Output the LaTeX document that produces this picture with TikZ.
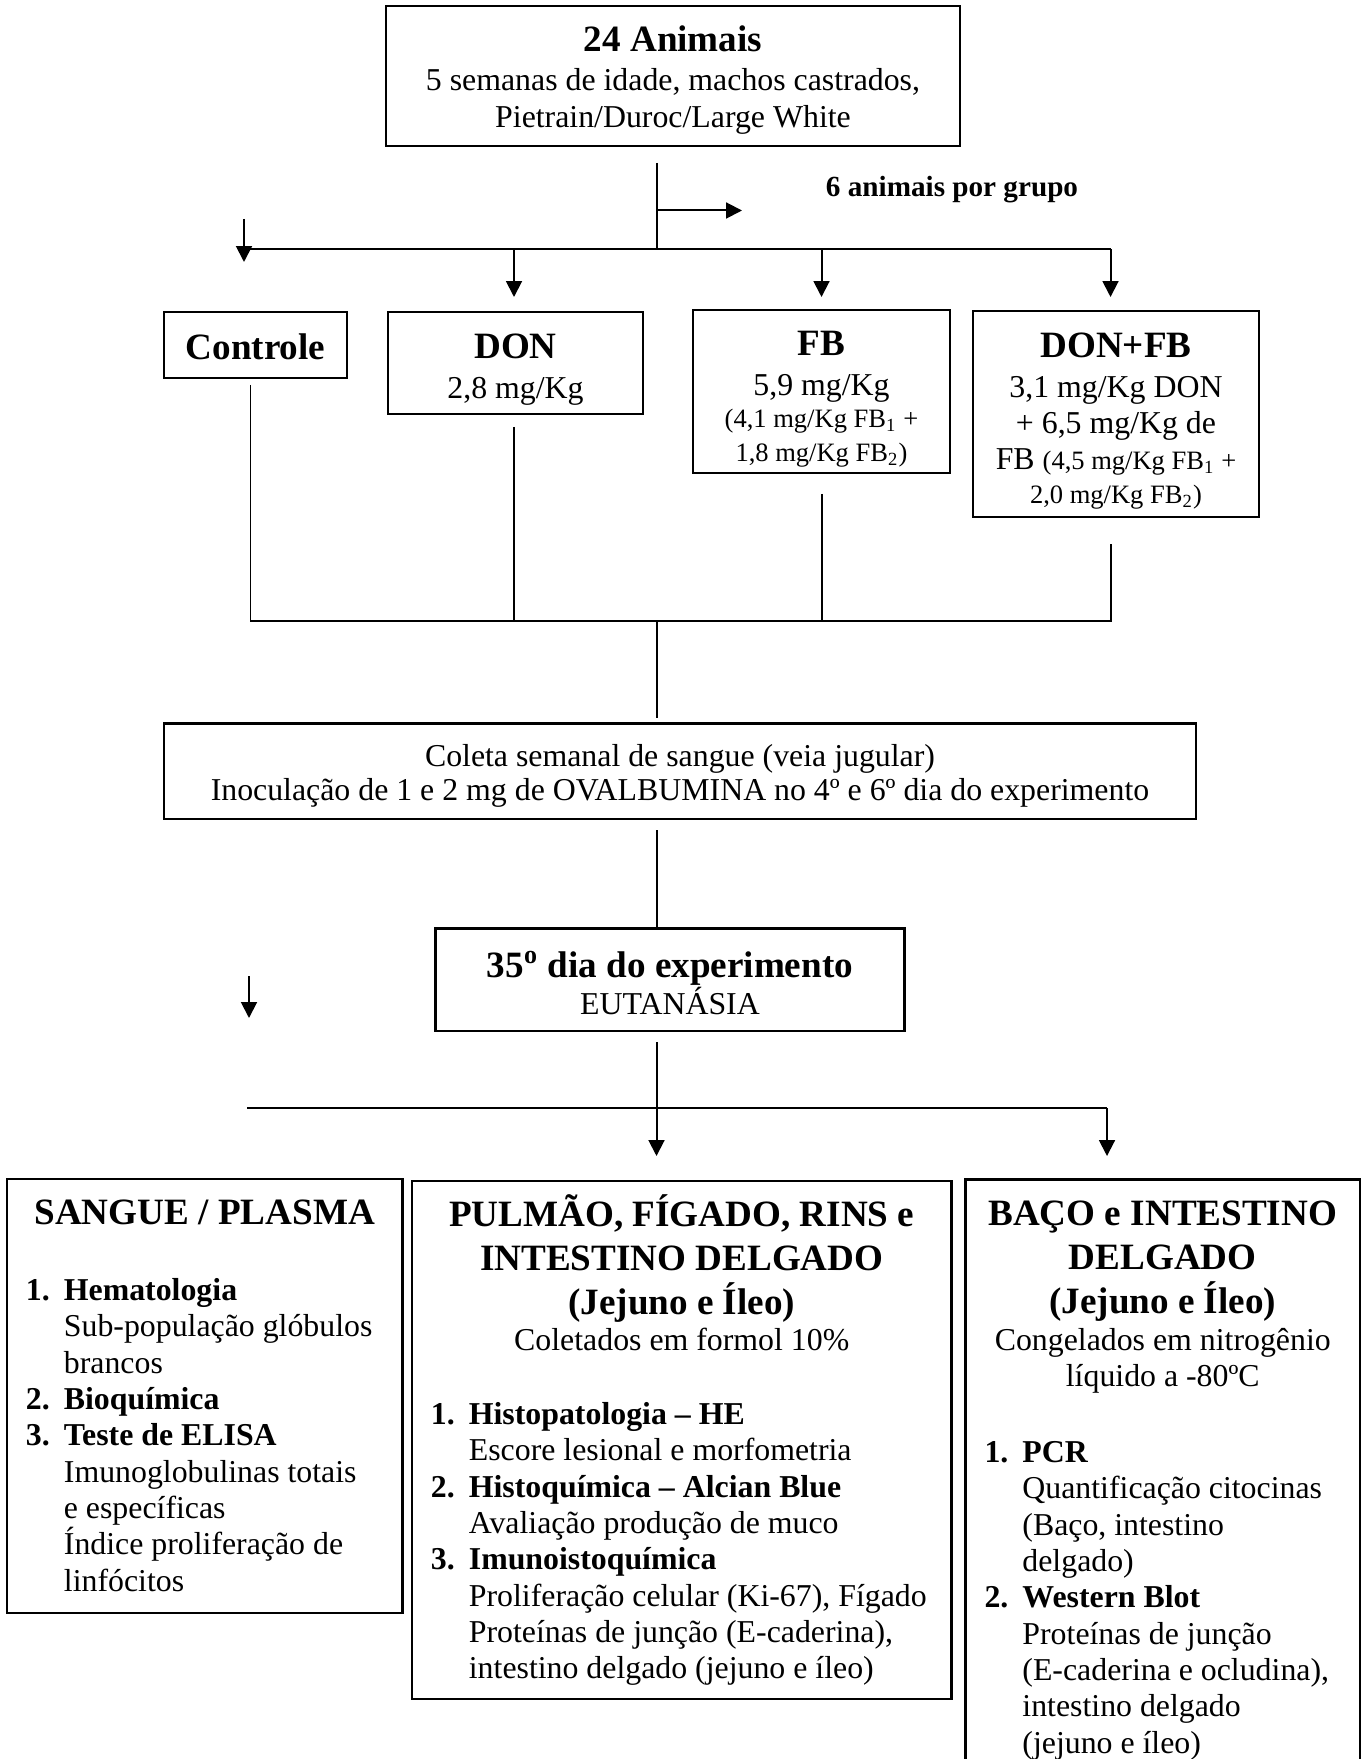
\documentclass[tikz,border=0pt]{standalone}
\usepackage{fontspec}
\setmainfont{Liberation Serif}
\usetikzlibrary{arrows.meta}

\newcommand{\titulo}[1]{{\fontsize{14}{16.6}\selectfont\bfseries #1}}
\newcommand{\miudo}[1]{{\fontsize{10}{11.5}\selectfont #1}}
\newcommand{\linha}[1]{\makebox[\hsize][l]{#1}}
\newcommand{\topico}[2]{\linha{\makebox[14.3pt][l]{\bfseries #1}\textbf{#2}}}
\newcommand{\recuo}[1]{\linha{\hspace*{14.3pt}#1}}
\newcommand{\topo}[1]{\rule{0pt}{#1}}

\tikzset{
  caixa/.style={draw, line width=0.8pt, inner sep=0pt, align=flush center,
    font=\fontsize{12}{13.7}\selectfont},
  liga/.style={line width=0.75pt},
  barra/.style={line width=0.9pt},
  seta/.style={-{Triangle[length=6pt,width=6pt]}}
}

\begin{document}
\begin{tikzpicture}[x=0.377pt, y=-0.377pt]
\useasboundingbox (0,0) rectangle (1369,1759);
\clip (0,0) rectangle (1369,1759);

% Caixa inicial
\node (animais) [caixa, minimum width=216.4pt, minimum height=52.8pt, text width=203.6pt] at (673,76)
    {\topo{12.7pt}\titulo{24 Animais}\\[1.2pt] 5 semanas de idade, machos castrados,\\ Pietrain/Duroc/Large White};
\node (rotulo) [font=\fontsize{11}{13}\selectfont\bfseries] at (952,190) {6 animais por grupo};

% Grupos
\node (controle) [caixa, minimum width=69pt, minimum height=24.9pt, text width=56.6pt] at (255.5,345)
    {\topo{10.9pt}\titulo{Controle}};
\node (don) [caixa, minimum width=96.1pt, minimum height=38.6pt, text width=84.8pt] at (515.5,363)
    {\topo{14.1pt}\titulo{DON}\\[1.2pt] 2,8 mg/Kg};
\node (fb) [caixa, minimum width=96.9pt, minimum height=61.5pt, text width=88.6pt] at (821.5,391.5)
    {\topo{15pt}\titulo{FB}\\[1.2pt] 5,9 mg/Kg\\[-1.5pt]
     \miudo{(4,1 mg/Kg FB\textsubscript{1} +}\\[-1pt]
     \miudo{1,8 mg/Kg FB\textsubscript{2})}};
\node (donfb) [caixa, minimum width=107.8pt, minimum height=77.7pt, text width=101.8pt] at (1116,414)
    {\topo{14.7pt}\titulo{DON+FB}\\[1.2pt] 3,1 mg/Kg DON\\ + 6,5 mg/Kg de\\
     FB \miudo{(4,5 mg/Kg FB\textsubscript{1} +}\\[-1pt]
     \miudo{2,0 mg/Kg FB\textsubscript{2})}};

% Coleta e eutanasia
\node (coleta) [caixa, minimum width=389.1pt, minimum height=36pt, text width=377pt] at (680,771.25)
    {\topo{11.7pt}Coleta semanal de sangue (veia jugular)\\[-0.7pt]
     Inoculação de 1 e 2 mg de OVALBUMINA no 4º e 6º dia do experimento};
\node (dia35) [caixa, minimum width=176.8pt, minimum height=38.5pt, text width=165.9pt] at (670,979.5)
    {\topo{12.6pt}\titulo{35\textsuperscript{o} dia do experimento}\\[0.5pt] EUTANÁSIA};

% Amostras
\node (sangue) [caixa, minimum width=149.1pt, minimum height=163.6pt, text width=134.8pt] at (204.75,1396)
    {\titulo{SANGUE / PLASMA}\\[14.8pt]
     \topico{1.}{Hematologia}\\
     \recuo{Sub-população glóbulos}\\
     \recuo{brancos}\\
     \topico{2.}{Bioquímica}\\
     \topico{3.}{Teste de ELISA}\\
     \recuo{Imunoglobulinas totais}\\
     \recuo{e específicas}\\
     \recuo{Índice proliferação de}\\
     \recuo{linfócitos}};
\node (pulmao) [caixa, minimum width=203.4pt, minimum height=195.3pt, text width=189.1pt] at (681.75,1440)
    {\titulo{PULMÃO, FÍGADO, RINS e}\\[2.9pt]
     \titulo{INTESTINO DELGADO}\\[2.9pt]
     \titulo{(Jejuno e Íleo)}\\
     Coletados em formol 10\%\\[14.2pt]
     \topico{1.}{Histopatologia – HE}\\
     \recuo{Escore lesional e morfometria}\\
     \topico{2.}{Histoquímica – Alcian Blue}\\
     \recuo{Avaliação produção de muco}\\
     \topico{3.}{Imunoistoquímica}\\
     \recuo{Proliferação celular (Ki-67), Fígado}\\
     \recuo{Proteínas de junção (E-caderina),}\\
     \recuo{intestino delgado (jejuno e íleo)}};
\node (baco) [caixa, minimum width=148.7pt, minimum height=227pt, text width=134.4pt] at (1162.75,1480.5)
    {\titulo{BAÇO e INTESTINO}\\[2.9pt]
     \titulo{DELGADO}\\[2.9pt]
     \titulo{(Jejuno e Íleo)}\\
     Congelados em nitrogênio\\
     líquido a -80ºC\\[15pt]
     \topico{1.}{PCR}\\
     \recuo{Quantificação citocinas}\\
     \recuo{(Baço, intestino}\\
     \recuo{delgado)}\\
     \topico{2.}{Western Blot}\\
     \recuo{Proteínas de junção}\\
     \recuo{(E-caderina e ocludina),}\\
     \recuo{intestino delgado}\\
     \recuo{(jejuno e íleo)}};

% Pontos das ligacoes
\coordinate (t1) at (656.5,163);
\coordinate (t2) at (656.5,249);
\coordinate (t3) at (656.5,210.5);
\coordinate (t4) at (742,210.5);
\coordinate (e1) at (244,249);
\coordinate (e2) at (1110.5,249);
\coordinate (e3) at (1110.5,297);
\coordinate (s1) at (244,219);
\coordinate (s2) at (244,262);
\foreach \nome/\x in {d/514, f/821.5} {
    \coordinate (\nome1) at (\x,249);
    \coordinate (\nome2) at (\x,297);
}
\coordinate (c1) at (250.5,385);
\coordinate (c2) at (250.5,621);
\coordinate (n1) at (514,427);
\coordinate (n2) at (514,621);
\coordinate (b1) at (821.5,494);
\coordinate (b2) at (821.5,621);
\coordinate (g1) at (1110.5,544);
\coordinate (g2) at (1110.5,621);
\coordinate (k1) at (656.5,621);
\coordinate (k2) at (656.5,718);
\coordinate (k3) at (656.5,830);
\coordinate (k4) at (656.5,928.5);
\coordinate (u1) at (249,976);
\coordinate (u2) at (249,1018);
\coordinate (v1) at (656.5,1042);
\coordinate (v2) at (656.5,1156);
\coordinate (w1) at (247,1108);
\coordinate (w2) at (1107,1108);
\coordinate (w3) at (1107,1156);

% Ligacoes
\draw[liga] (t1) -- (t2);
\draw[liga, seta] (t3) -- (t4);
\draw[barra] (e1) -- (e2);
\draw[liga, seta] (e2) -- (e3);
\draw[liga, seta] (s1) -- (s2);
\draw[liga, seta] (d1) -- (d2);
\draw[liga, seta] (f1) -- (f2);

\draw[liga] (c1) -- (c2) -- (g2) -- (g1);
\draw[liga] (n1) -- (n2);
\draw[liga] (b1) -- (b2);
\draw[liga] (k1) -- (k2);
\draw[liga] (k3) -- (k4);

\draw[liga, seta] (u1) -- (u2);
\draw[liga, seta] (v1) -- (v2);
\draw[barra] (w1) -- (w2);
\draw[liga, seta] (w2) -- (w3);

\end{tikzpicture}
\end{document}
